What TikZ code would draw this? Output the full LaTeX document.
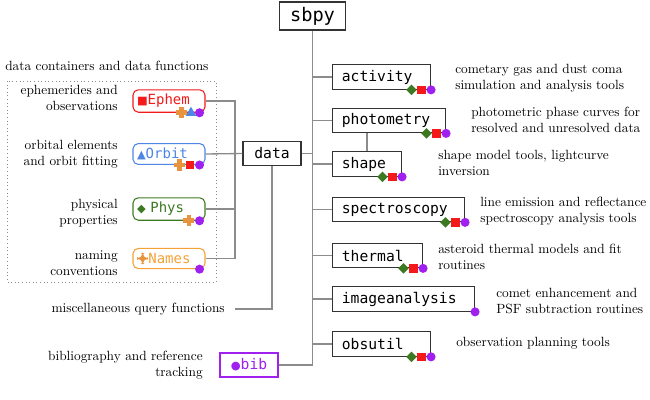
\documentclass[tikz,border=0pt]{standalone}
\usepackage{fontspec}
\newfontfamily\monofont{DejaVu Sans Mono}
\newfontfamily\symfont{DejaVu Sans}
\usetikzlibrary{positioning,shapes.geometric}
\definecolor{linegray}{HTML}{8C8C8C}
\definecolor{ephred}{HTML}{F21A1A}
\definecolor{orbblue}{HTML}{4F86E6}
\definecolor{phygreen}{HTML}{3C7A22}
\definecolor{namorange}{HTML}{F4A236}
\definecolor{crsorange}{HTML}{E8943E}
\definecolor{bibpurple}{HTML}{A020F0}
\tikzstyle{conn}   = [linegray, line width=1pt]
\tikzstyle{modbox} = [draw=black!80, line width=0.8pt, fill=white, minimum height=18.5pt, inner xsep=7pt, align=left, anchor=west, font=\monofont\fontsize{11}{12}\selectfont]
\tikzstyle{topbox} = [draw=black!80, line width=0.8pt, fill=white, minimum width=50pt, minimum height=21pt, font=\monofont\fontsize{14}{16}\selectfont]
\tikzstyle{dcbox}  = [draw, rounded corners=4pt, line width=0.8pt, fill=white, minimum height=15pt, inner xsep=3pt, text width=48pt, align=left, font=\monofont\fontsize{10.5}{12}\selectfont]
\tikzstyle{desc}   = [align=left, anchor=west, inner sep=0pt, font=\fontsize{10}{12}\selectfont]
\tikzstyle{ldesc}  = [align=right, anchor=east, inner sep=0pt, font=\fontsize{10}{12}\selectfont]
\tikzstyle{icdot}  = [circle, fill=bibpurple, minimum size=6.8pt, inner sep=0pt]
\tikzstyle{icsq}   = [rectangle, fill=ephred, minimum size=6.5pt, inner sep=0pt]
\tikzstyle{icdmd}  = [diamond, fill=phygreen, minimum size=8pt, inner sep=0pt]
\tikzstyle{ictri}  = [regular polygon, regular polygon sides=3, fill=orbblue, minimum size=9pt, inner sep=0pt]
\tikzstyle{iccrs}  = [rectangle, minimum size=8.5pt, inner sep=0pt, path picture={
	\fill[crsorange] ([xshift=-1.7pt]path picture bounding box.north) rectangle ([xshift=1.7pt]path picture bounding box.south);
	\fill[crsorange] ([yshift=-1.7pt]path picture bounding box.west) rectangle ([yshift=1.7pt]path picture bounding box.east);}]
\newcommand{\smallsym}[1]{{\symfont\fontsize{8.5}{8}\selectfont #1}}
\newcommand{\crsicon}{\tikz[baseline=-0.6ex]\node[iccrs] {};}

\begin{document}
\begin{tikzpicture}[x=0.75pt, y=-0.75pt]
	\useasboundingbox (0,0) rectangle (650,400);

	% package and sub-packages
	\node[topbox] (sbpy) at (312.5,16) {sbpy};
	\node[modbox, text width=59.5pt]  (act)  at (332,77)    {activity};
	\node[modbox, text width=70.75pt] (phot) at (332,120.5) {photometry};
	\node[modbox, text width=37.75pt] (shape) at (332,164)  {shape};
	\node[modbox, text width=85pt]    (spec) at (332,209.5) {spectroscopy};
	\node[modbox, text width=53.5pt]  (therm) at (332,255.5){thermal};
	\node[modbox, text width=92.5pt]  (imga) at (332,299)   {imageanalysis};
	\node[modbox, text width=59.5pt]  (obs)  at (332,344)   {obsutil};
	\node[topbox, minimum width=43.5pt, minimum height=18.5pt, font=\monofont\fontsize{11}{12}\selectfont] (data) at (272,153.5) {data};
	\node[draw=bibpurple, line width=0.8pt, fill=white, minimum width=43.5pt, minimum height=18pt, text=bibpurple, font=\monofont\fontsize{11}{12}\selectfont] (bib) at (249,365) {\smallsym{●}bib};

	% trunk and branches
	\draw[conn] (sbpy.south) -- (sbpy.south |- bib.east);
	\foreach \m in {act,phot,spec,therm,imga,obs}
		\draw[conn] (\m.west) -- (\m.west -| sbpy.south);
	\draw[conn] (shape.west) -- (shape.west -| sbpy.south);
	\draw[conn] (shape.north) -- (shape.north |- phot.south);
	\draw[conn] (data.east) -- (data.east -| sbpy.south);
	\draw[conn] (bib.east) -- (bib.east -| sbpy.south);

	% icons on the sub-packages
	\foreach \m in {act,phot,shape,spec,therm,obs} {
		\node[icdot] (\m-c) at (\m.south east) {};
		\node[icsq, left=0pt of \m-c] (\m-s) {};
		\node[icdmd, left=0pt of \m-s] (\m-d) {};
	}
	\node[icdot] (imga-c) at (imga.south east) {};

	% data containers
	\draw[linegray, dotted, line width=0.7pt] (7,81) rectangle (216,282);
	\node[anchor=west, inner sep=0pt, font=\fontsize{10}{12}\selectfont] (dclabel) at (5,66) {data containers and data functions};
	\node[dcbox, draw=ephred, text=ephred] (ephem) at (169,101) {\smallsym{■}Ephem};
	\node[dcbox, draw=orbblue, text=orbblue] (orbit) at (169,154) {\smallsym{▲}Orbit};
	\node[dcbox, draw=phygreen, text=phygreen] (phys) at (169,209) {\smallsym{◆} Phys};
	\node[dcbox, draw=namorange, text=namorange] (names) at (169,258.5) {\crsicon Names};

	\node[icdot] (ephem-c) at ([xshift=-4.5pt]ephem.south east) {};
	\node[ictri, left=0pt of ephem-c] (ephem-t) {};
	\node[iccrs, left=0pt of ephem-t] (ephem-x) {};
	\node[icdot] (orbit-c) at ([xshift=-4.5pt]orbit.south east) {};
	\node[icsq, left=0pt of orbit-c] (orbit-s) {};
	\node[iccrs, left=0pt of orbit-s] (orbit-x) {};
	\node[icdot] (phys-c) at ([xshift=-4.5pt]phys.south east) {};
	\node[iccrs, left=0pt of phys-c] (phys-x) {};
	\node[icdot] (names-c) at ([xshift=-4.5pt]names.south east) {};

	\coordinate (djoin) at (235,154);
	\draw[conn] (ephem.east) -- (ephem.east -| djoin) -- (names.east -| djoin) -- (names.east);
	\draw[conn] (phys.east) -- (phys.east -| djoin);
	\draw[conn] (orbit.east) -- (data.west);

	\node[ldesc] (ephem-d) at (118,98)  {ephemerides and\\observations};
	\node[ldesc] (orbit-d) at (118,154) {orbital elements\\and orbit fitting};
	\node[ldesc] (phys-d)  at (118,213) {physical\\properties};
	\node[ldesc] (names-d) at (118,263) {naming\\conventions};

	% other modules
	\node[ldesc, inner xsep=7.5pt] (misc) at (235,309) {miscellaneous query functions};
	\draw[conn] (misc.east) -- (misc.east -| data.south) -- (data.south);
	\node[ldesc] (bib-d) at (203,365) {bibliography and reference\\tracking};

	% descriptions
	\node[desc] (act-t)   at (455,78)    {cometary gas and dust coma\\simulation and analysis tools};
	\node[desc] (phot-t)  at (471,119.5) {photometric phase curves for\\resolved and unresolved data};
	\node[desc] (shape-t) at (438,163)   {shape model tools, lightcurve\\inversion};
	\node[desc] (spec-t)  at (480,211)   {line emission and reflectance\\spectroscopy analysis tools};
	\node[desc] (therm-t) at (438,256.5) {asteroid thermal models and fit\\routines};
	\node[desc] (imga-t)  at (496,301.5) {comet enhancement and\\PSF subtraction routines};
	\node[desc] (obs-t)   at (456,343)   {observation planning tools};
\end{tikzpicture}
\end{document}
